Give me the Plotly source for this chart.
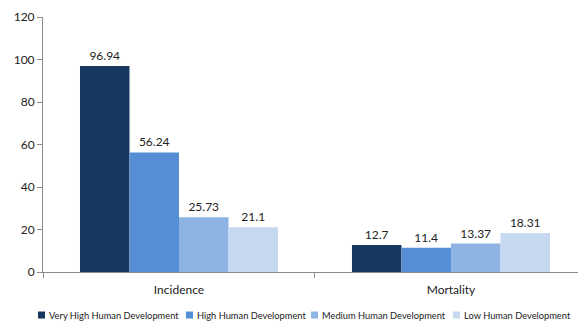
import plotly.graph_objects as go

categories = ["Incidence", "Mortality"]
series_names = ["Very High Human Development", "High Human Development",
                "Medium Human Development", "Low Human Development"]
very_high = [96.94, 12.7]
high = [56.24, 11.4]
medium = [25.73, 13.37]
low = [21.1, 18.31]
y_ticks = [0, 20, 40, 60, 80, 100, 120]

colors = ["#17375E", "#558ED5", "#8EB4E3", "#C6D9F1"]
values = [very_high, high, medium, low]

W, H = 578, 322
ML, MR, MT, MB = 43, 0, 17, 50
PW, PH = W - ML - MR, H - MT - MB

fig = go.Figure()
for name, vals, c in zip(series_names, values, colors):
    fig.add_trace(go.Bar(
        x=categories, y=vals, name=name, marker=dict(color=c, line=dict(width=0)),
        text=[f"{v:g}" for v in vals], textposition="outside",
        textfont=dict(size=12, color="#222222", family="Lato"),
        cliponaxis=False, showlegend=False,
    ))

# custom legend (pixel positions of legend entries)
legend_marker_px = [38, 186, 311, 453]
ly = 315
for name, c, px in zip(series_names, colors, legend_marker_px):
    fig.add_shape(type="rect", xref="paper", yref="paper",
                  x0=(px - ML) / PW, x1=(px + 7 - ML) / PW,
                  y0=(H - MB - (ly + 3.5)) / PH, y1=(H - MB - (ly - 3.5)) / PH,
                  fillcolor=c, line=dict(width=0))
    fig.add_annotation(text=name, xref="paper", yref="paper",
                       x=(px + 9 - ML) / PW, y=(H - MB - ly) / PH,
                       xanchor="left", yanchor="middle", showarrow=False,
                       font=dict(size=9.3, color="#222222", family="Lato"))

fig.update_layout(
    width=W, height=H,
    margin=dict(l=ML, r=MR, t=MT, b=MB, autoexpand=False),
    paper_bgcolor="white", plot_bgcolor="white",
    barmode="group", bargap=0.272, bargroupgap=0,
    font=dict(family="Lato", size=12, color="#222222"),
    showlegend=False,
    xaxis=dict(type="category", range=[-0.5, 1.467], showline=True, linecolor="#8c8c8c",
               linewidth=1, ticks="outside", tickson="boundaries", ticklen=5,
               tickcolor="#8c8c8c", showgrid=False, tickfont=dict(size=12),
               ticklabelstandoff=7),
    yaxis=dict(range=[0, 120], tickvals=y_ticks, showline=True, linecolor="#8c8c8c",
               linewidth=1, ticks="outside", ticklen=5, tickcolor="#8c8c8c",
               showgrid=False, zeroline=False, tickfont=dict(size=12)),
)

fig.write_html("out.html")
